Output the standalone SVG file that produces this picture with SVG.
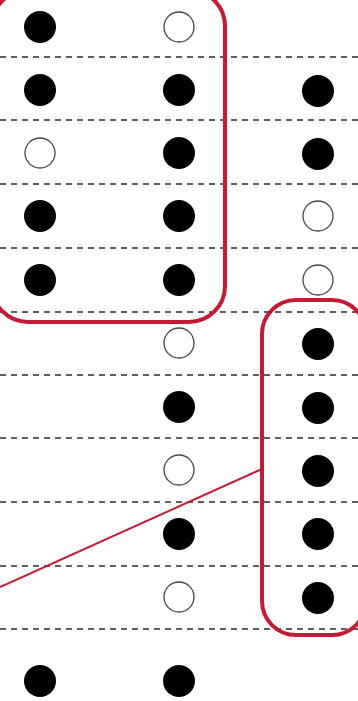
<svg xmlns="http://www.w3.org/2000/svg" width="358" height="701" viewBox="0 0 358 701">
<style>
.sep{stroke:#5e5e5e;stroke-width:1.8;stroke-dasharray:6 5}
.f{fill:#000}
.o{fill:#fff;stroke:#444;stroke-width:1.3}
.grp{fill:none;stroke:#c41a35;stroke-width:4}
.link{stroke:#c41a35;stroke-width:2;fill:none}
</style>
<rect width="358" height="701" fill="#fff"/>
<g id="separators">
<line class="sep" x1="0" y1="57" x2="358" y2="57"/>
<line class="sep" x1="0" y1="120" x2="358" y2="120"/>
<line class="sep" x1="0" y1="184" x2="358" y2="184"/>
<line class="sep" x1="0" y1="248" x2="358" y2="248"/>
<line class="sep" x1="0" y1="312" x2="358" y2="312"/>
<line class="sep" x1="0" y1="375" x2="358" y2="375"/>
<line class="sep" x1="0" y1="438" x2="358" y2="438"/>
<line class="sep" x1="0" y1="502" x2="358" y2="502"/>
<line class="sep" x1="0" y1="566" x2="358" y2="566"/>
<line class="sep" x1="0" y1="629" x2="358" y2="629"/>
</g>
<g id="dots">
<circle class="f" cx="40" cy="27" r="16"/>
<circle class="o" cx="179" cy="27" r="15"/>
<circle class="f" cx="40" cy="90" r="16"/>
<circle class="f" cx="179" cy="90" r="16"/>
<circle class="f" cx="318" cy="91" r="16"/>
<circle class="o" cx="40" cy="153" r="15"/>
<circle class="f" cx="179" cy="153" r="16"/>
<circle class="f" cx="318" cy="154" r="16"/>
<circle class="f" cx="40" cy="216" r="16"/>
<circle class="f" cx="179" cy="216" r="16"/>
<circle class="o" cx="318" cy="216" r="15"/>
<circle class="f" cx="40" cy="280" r="16"/>
<circle class="f" cx="179" cy="280" r="16"/>
<circle class="o" cx="318" cy="280" r="15"/>
<circle class="o" cx="179" cy="343" r="15"/>
<circle class="f" cx="318" cy="344" r="16"/>
<circle class="f" cx="179" cy="407" r="16"/>
<circle class="f" cx="318" cy="408" r="16"/>
<circle class="o" cx="179" cy="470" r="15"/>
<circle class="f" cx="318" cy="471" r="16"/>
<circle class="f" cx="179" cy="534" r="16"/>
<circle class="f" cx="318" cy="534" r="16"/>
<circle class="o" cx="179" cy="597" r="15"/>
<circle class="f" cx="318" cy="598" r="16"/>
<circle class="f" cx="40" cy="681" r="16"/>
<circle class="f" cx="179" cy="681" r="16"/>
</g>
<g id="group-left">
<rect class="grp" x="-8" y="-10" width="233" height="332" rx="36"/>
</g>
<g id="group-right">
<rect class="grp" x="262" y="300" width="104" height="335" rx="34"/>
</g>
<g id="connectors">
<line class="link" x1="0" y1="587" x2="262" y2="469"/>
</g>
</svg>
